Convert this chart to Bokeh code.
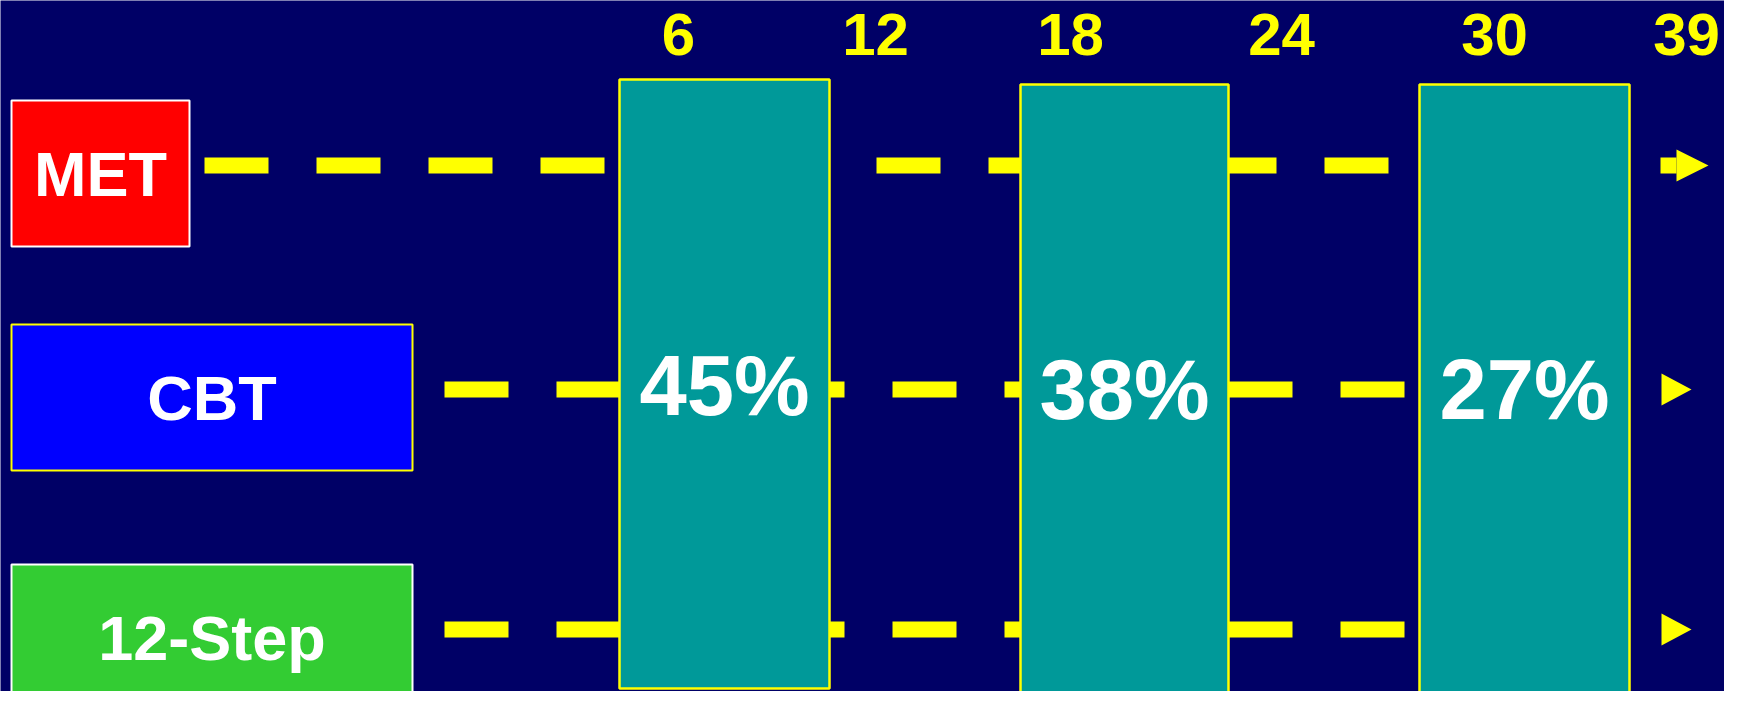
from bokeh.plotting import figure
from bokeh.models import Range1d, ColumnDataSource
from bokeh.core.properties import value
from bokeh.embed import file_html
from bokeh.resources import INLINE

# ---- data ----
groups = ["MET", "CBT", "12-Step"]
months = [6, 12, 18, 24, 30, 39]
rates = [45, 38, 27]

# ---- layout (reference pixel coordinates) ----
month_x = [678, 875, 1070, 1281, 1494, 1686]
month_base = 56
row_y = [165, 389, 629]
box_top = [100, 324, 564]
box_h = 146
box_right = [189, 412, 412]
box_left = 11
bar_left = [619, 1020, 1419]
bar_right = [829, 1228, 1629]
bar_top = [79, 84, 84]
bar_bottom = [688, 693, 693]
dash_start = [204, 444, 444]
dash_end = [1676, 1640, 1640]
arrow_base = [1676, 1661, 1661]
arrow_tip = [1708, 1691, 1691]
arrow_half = 16
# baseline correction for Bokeh text placement (fraction of font size)
BASE_K = 0.375

# ---- styles ----
BG = "#000066"
YELLOW = "#FFFF00"
TEAL = "#009999"
box_fill = ["#FF0000", "#0000FF", "#33CC33"]
box_line = ["#FFFFFF", "#FFFF00", "#FFFFFF"]
FONT = value("Liberation Sans")
FS_MONTH, FS_BOX, FS_PCT = 60, 63, 85

p = figure(width=1724, height=691, output_backend="svg", toolbar_location=None,
           x_range=Range1d(0, 1724), y_range=Range1d(691, 0),
           x_axis_location=None, y_axis_location=None, min_border=0)
p.background_fill_color = BG
p.border_fill_color = BG
p.outline_line_color = None
p.grid.visible = False

# dashed timelines
p.multi_line(xs=[[s, e] for s, e in zip(dash_start, dash_end)],
             ys=[[y, y] for y in row_y],
             line_color=YELLOW, line_width=16, line_dash="64 48", line_cap="butt")

# arrow heads
p.patches(xs=[[b, t, b] for b, t in zip(arrow_base, arrow_tip)],
          ys=[[y - arrow_half, y, y + arrow_half] for y in row_y],
          fill_color=YELLOW, line_color=None)

# follow-up bars
p.quad(left=bar_left, right=bar_right, top=bar_top, bottom=bar_bottom,
       fill_color=TEAL, line_color=YELLOW, line_width=2.5)

p.text(x=[(l + r) / 2 for l, r in zip(bar_left, bar_right)],
       y=[b - BASE_K * FS_PCT for b in (417, 421, 421)],
       text=[f"{v}%" for v in rates],
       text_color="#FFFFFF", text_font=FONT, text_font_style="bold",
       text_font_size=f"{FS_PCT}px", text_align="center", text_baseline="alphabetic")

# month labels
p.text(x=month_x, y=[month_base - BASE_K * FS_MONTH] * len(months),
       text=[str(m) for m in months],
       text_color=YELLOW, text_font=FONT, text_font_style="bold",
       text_font_size=f"{FS_MONTH}px", text_align="center", text_baseline="alphabetic")

# group boxes
src = ColumnDataSource(dict(
    left=[box_left] * 3, right=box_right,
    top=box_top, bottom=[t + box_h for t in box_top],
    fill=box_fill, line=box_line, label=groups,
    cx=[(box_left + r) / 2 for r in box_right],
    ty=[t + 97 - BASE_K * FS_BOX for t in box_top]))
p.quad(left="left", right="right", top="top", bottom="bottom", source=src,
       fill_color="fill", line_color="line", line_width=2)
p.text(x="cx", y="ty", text="label", source=src,
       text_color="#FFFFFF", text_font=FONT, text_font_style="bold",
       text_font_size=f"{FS_BOX}px", text_align="center", text_baseline="alphabetic")

open("out.html", "w").write(file_html(p, INLINE))
